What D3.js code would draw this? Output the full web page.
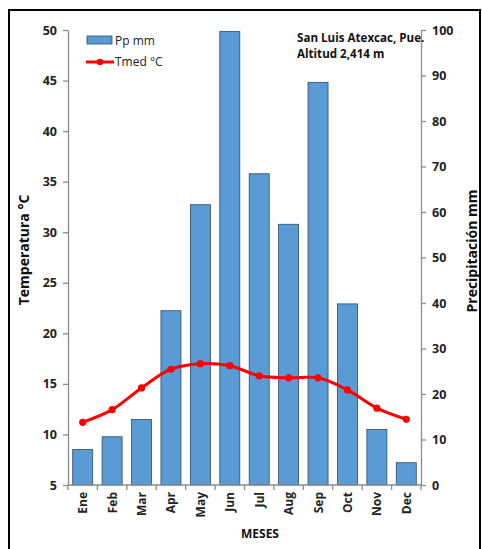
<!DOCTYPE html>
<html><head><meta charset="utf-8">
<script src="https://cdn.jsdelivr.net/npm/d3@7"></script>
<style>body{margin:0;background:#fff}svg{display:block}text{font-family:"Open Sans","Liberation Sans",sans-serif}</style>
</head><body>
<svg id="c" width="482" height="549"></svg>
<script>
const months = ["Ene","Feb","Mar","Apr","May","Jun","Jul","Aug","Sep","Oct","Nov","Dec"];
const precip = [7.8,10.6,14.4,38.3,61.6,99.7,68.4,57.3,88.5,39.8,12.2,4.9];
const temp = [11.2,12.45,14.6,16.45,17.0,16.8,15.8,15.6,15.6,14.4,12.6,11.5];
const tempTicks = [5,10,15,20,25,30,35,40,45,50];
const precipTicks = [0,10,20,30,40,50,60,70,80,90,100];

const svg = d3.select("#c");
const L = 68, R = 421, T = 30, B = 485;

svg.append("rect").attr("x",9).attr("y",10).attr("width",471).attr("height",560)
  .attr("fill","none").attr("stroke","#000").attr("stroke-width",2);

const x = d3.scaleBand().domain(months).range([L,R]).paddingInner(0.32).paddingOuter(0.16);
const yT = d3.scaleLinear().domain([5,50]).range([B,T]);
const yP = d3.scaleLinear().domain([0,100]).range([B,T]);

// bars
svg.append("g").selectAll("rect").data(precip).join("rect")
  .attr("x",(d,i)=>x(months[i])).attr("width",x.bandwidth())
  .attr("y",d=>yP(d)).attr("height",d=>B-yP(d))
  .attr("fill","#5b9bd5").attr("stroke","#2e4a66").attr("stroke-width",0.8);

// axes
const axStyle = g => {
  g.selectAll(".domain").attr("stroke","#8c8c8c").attr("stroke-width",1.3);
  g.selectAll(".tick line").attr("stroke","#8c8c8c").attr("stroke-width",1.3);
  g.selectAll("text").attr("font-weight","bold").attr("fill","#222").attr("font-size","12.5px");
};
svg.append("g").attr("transform",`translate(${L},0)`)
  .call(d3.axisLeft(yT).tickValues(tempTicks).tickSize(5).tickSizeOuter(0).tickPadding(6))
  .call(axStyle);
svg.append("g").attr("transform",`translate(${R},0)`)
  .call(d3.axisRight(yP).tickValues(precipTicks).tickSize(5).tickSizeOuter(0).tickPadding(6))
  .call(axStyle);

// x axis with ticks at band boundaries
const gx = svg.append("g");
gx.append("line").attr("x1",L).attr("x2",R).attr("y1",B).attr("y2",B).attr("stroke","#8c8c8c").attr("stroke-width",1.3);
gx.selectAll("line.t").data(d3.range(13)).join("line").attr("class","t")
  .attr("x1",i=>L+i*(R-L)/12).attr("x2",i=>L+i*(R-L)/12).attr("y1",B).attr("y2",B+5)
  .attr("stroke","#8c8c8c").attr("stroke-width",1.3);
gx.selectAll("text").data(months).join("text")
  .attr("transform",d=>`translate(${x(d)+x.bandwidth()/2+4.5},${B+7}) rotate(-90)`)
  .attr("text-anchor","end").attr("font-size","12px").attr("font-weight","bold").attr("fill","#222")
  .text(d=>d);

// line
const line = d3.line().x((d,i)=>x(months[i])+x.bandwidth()/2).y(d=>yT(d)).curve(d3.curveCatmullRom.alpha(0.5));
svg.append("path").datum(temp).attr("d",line).attr("fill","none").attr("stroke","#ff0000").attr("stroke-width",3);
svg.append("g").selectAll("circle").data(temp).join("circle")
  .attr("cx",(d,i)=>x(months[i])+x.bandwidth()/2).attr("cy",d=>yT(d)).attr("r",3.6).attr("fill","#ff0000");

// titles
svg.append("text").attr("transform","translate(29,250) rotate(-90)").attr("text-anchor","middle")
  .attr("font-size","14px").attr("font-weight","bold").attr("fill","#111").text("Temperatura °C");
svg.append("text").attr("transform","translate(477,251) rotate(-90)").attr("text-anchor","middle")
  .attr("font-size","14px").attr("font-weight","bold").attr("fill","#111").text("Precipitación mm");
svg.append("text").attr("x",260).attr("y",538).attr("text-anchor","middle")
  .attr("font-size","12px").attr("font-weight","bold").attr("fill","#111").text("MESES");

// annotation
svg.append("text").attr("x",297).attr("y",42).attr("font-size","11.6px").attr("font-weight","bold").attr("fill","#111").text("San Luis Atexcac, Pue.");
svg.append("text").attr("x",297).attr("y",58).attr("font-size","11.6px").attr("font-weight","bold").attr("fill","#111").text("Altitud 2,414 m");

// legend
const lg = svg.append("g");
lg.append("rect").attr("x",87).attr("y",36).attr("width",25).attr("height",8).attr("fill","#5b9bd5").attr("stroke","#2e4a66").attr("stroke-width",0.8);
lg.append("text").attr("x",115).attr("y",45).attr("font-size","12px").attr("fill","#222").text("Pp mm");
lg.append("line").attr("x1",86).attr("x2",114).attr("y1",62).attr("y2",62).attr("stroke","#ff0000").attr("stroke-width",3);
lg.append("circle").attr("cx",100).attr("cy",62).attr("r",3.2).attr("fill","#ff0000");
lg.append("text").attr("x",115).attr("y",66).attr("font-size","12px").attr("fill","#222").text("Tmed °C");
</script>
</body></html>
